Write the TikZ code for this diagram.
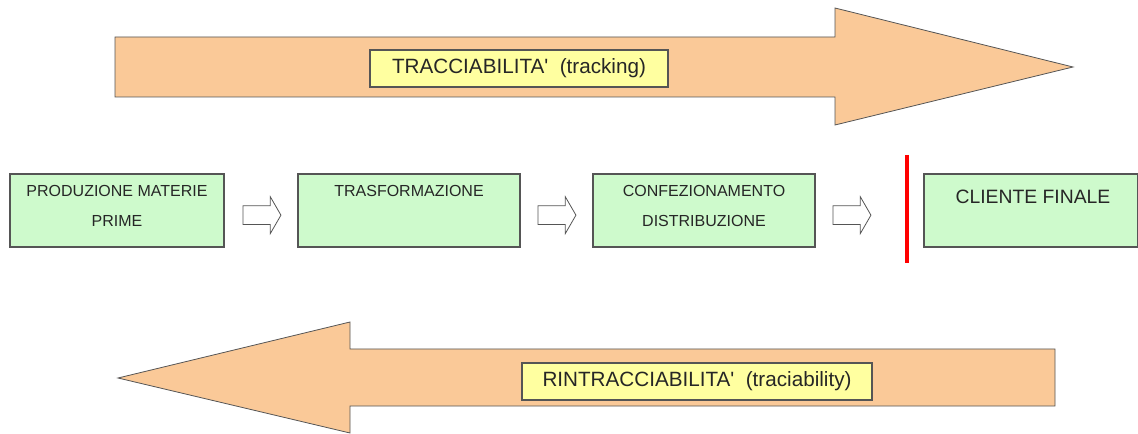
\documentclass[tikz,border=0pt]{standalone}
\usepackage{fontspec}
\setmainfont{Liberation Sans}
\usetikzlibrary{positioning,shapes.arrows}

\definecolor{arrowfill}{RGB}{250,201,152}
\definecolor{stagefill}{RGB}{206,250,204}
\definecolor{tagfill}{RGB}{255,255,160}
\definecolor{edgegray}{RGB}{85,85,85}

\begin{document}
\begin{tikzpicture}[x=0.75pt,y=0.75pt,yscale=-1,xscale=1,
  stage/.style={draw=edgegray,fill=stagefill,line width=0.8pt,minimum height=54.75pt,inner sep=0pt},
  stagetext/.style={inner sep=0pt,text=black!85,font=\fontsize{12}{22.5}\selectfont,align=center},
  tag/.style={draw=edgegray,fill=tagfill,line width=0.8pt,inner sep=0pt,minimum height=27.75pt,font=\fontsize{15.5}{18}\selectfont,text=black!85},
  flow/.style={single arrow,draw=edgegray,fill=white,line width=0.6pt,inner sep=0pt,minimum height=28.5pt,single arrow head extend=6.75pt,single arrow tip angle=120,yshift=-3.5pt}
]
\useasboundingbox (0,0) rectangle (1138,434);

% tracking arrow
\draw [draw=edgegray,fill=arrowfill,line width=0.6pt] (115,37) -- (835,37) -- (835,8) -- (1073,67) -- (835,125) -- (835,97) -- (115,97) -- cycle ;
\node [tag,minimum width=223.5pt] (track) at (519,68.5) {TRACCIABILITA\textquotesingle~~(tracking)};

% stages
\node [stage,minimum width=160.5pt] (prod) at (117,210.5) {};
\node [stage,minimum width=166.5pt] (trasf) at (409,210.5) {};
\node [stage,minimum width=166.5pt] (conf) at (704,210.5) {};
\node [stage,minimum width=160.5pt] (cliente) at (1031,210.5) {};

\node [stagetext] (prodtxt) at (117,206) {PRODUZIONE MATERIE\\PRIME};
\node [stagetext] (trasftxt) at (409,191) {TRASFORMAZIONE};
\node [stagetext] (conftxt) at (704,205.5) {CONFEZIONAMENTO\\DISTRIBUZIONE};
\node [stagetext,font=\fontsize{14.5}{17}\selectfont] (clientetxt) at (1033,196.5) {CLIENTE FINALE};

\node [flow,right=13.5pt of prod] (a1) {\rule{0pt}{13.5pt}};
\node [flow,right=12.75pt of trasf] (a2) {\rule{0pt}{13.5pt}};
\node [flow,right=12.75pt of conf] (a3) {\rule{0pt}{13.5pt}};

\draw [red,line width=3pt] (907,155) -- (907,263) ;

% traciability arrow
\draw [draw=edgegray,fill=arrowfill,line width=0.6pt] (1055,349) -- (350,349) -- (350,322) -- (118,378) -- (350,433) -- (350,406) -- (1055,406) -- cycle ;
\node [tag,minimum width=262.5pt] (retrace) at (697,381.5) {RINTRACCIABILITA\textquotesingle~~(traciability)};

\end{tikzpicture}
\end{document}
